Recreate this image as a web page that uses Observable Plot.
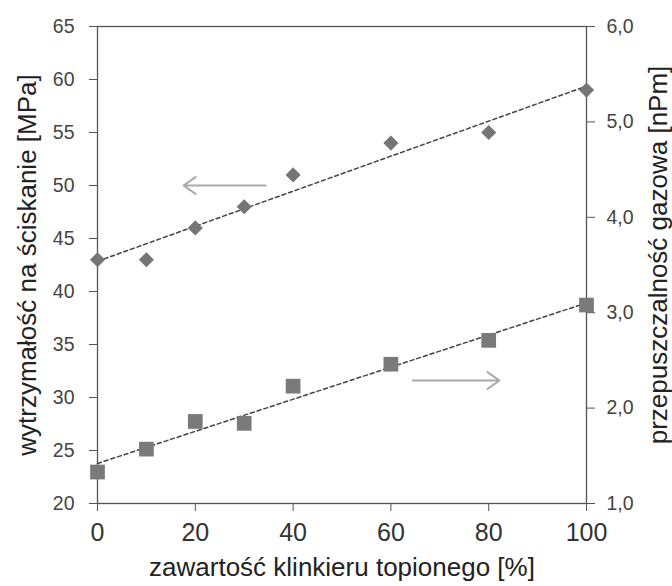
<!DOCTYPE html>
<html><head><meta charset="utf-8">
<script src="https://cdn.jsdelivr.net/npm/d3@7"></script>
<script src="https://cdn.jsdelivr.net/npm/@observablehq/plot@0.6"></script>
<style>body{margin:0;background:#fff;} svg{font-family:"Liberation Sans",Arial,sans-serif;}</style>
</head><body><div id="chart"></div>
<script>
// content of fused clinker [%]
const clinker = [0, 10, 20, 30, 40, 60, 80, 100];
// compressive strength [MPa] (left axis)
const strength = [43, 43, 46, 48, 51, 54, 55, 59];
// gas permeability [nPm] (right axis)
const permeability = [1.33, 1.57, 1.86, 1.84, 2.23, 2.46, 2.71, 3.08];

const leftTicks = [20, 25, 30, 35, 40, 45, 50, 55, 60, 65];
const rightTicks = [1, 2, 3, 4, 5, 6];
const xTicks = [0, 20, 40, 60, 80, 100];

// arrows indicating which axis each series belongs to
const arrowX1 = [34.4, 64.5];
const arrowX2 = [17.6, 82.2];
const arrowY = [50, 31.6];

// right axis (1..6) mapped onto the left scale (20..65)
const toLeft = r => 20 + (r - 1) * 9;

const sData = clinker.map((x, i) => ({x, y: strength[i]}));
const pData = clinker.map((x, i) => ({x, y: toLeft(permeability[i])}));
const arrows = arrowX1.map((x1, i) => ({x1, x2: arrowX2[i], y: arrowY[i]}));

const fmt = v => v.toFixed(1).replace(".", ",");

const chart = Plot.plot({
  width: 672,
  height: 586,
  marginLeft: 97,
  marginRight: 86,
  marginTop: 26,
  marginBottom: 83,
  x: {domain: [0, 100]},
  y: {domain: [20, 65]},
  style: {fontFamily: "Liberation Sans, Arial, sans-serif", color: "#333"},
  marks: [
    Plot.frame({stroke: "#555", strokeWidth: 1.3}),
    Plot.axisX(xTicks, {anchor: "bottom", tickSize: 8, tickPadding: 12, fontSize: 25, label: null, stroke: "#555", fill: "#333"}),
    Plot.axisY(leftTicks, {anchor: "left", tickSize: 8, tickPadding: 15, fontSize: 19.5, label: null, stroke: "#555", fill: "#444"}),
    Plot.axisY(rightTicks.map(toLeft), {anchor: "right", tickSize: 8, tickPadding: 12, fontSize: 19.5, label: null, stroke: "#555", fill: "#444",
      tickFormat: v => fmt((v - 20) / 9 + 1)}),
    Plot.linearRegressionY(sData, {x: "x", y: "y", ci: 0, stroke: "#444", strokeWidth: 1.5, strokeDasharray: "4,3"}),
    Plot.linearRegressionY(pData, {x: "x", y: "y", ci: 0, stroke: "#444", strokeWidth: 1.5, strokeDasharray: "4,3"}),
    Plot.dot(sData, {x: "x", y: "y", symbol: "diamond2", r: 6.8, fill: "#757575", stroke: "none"}),
    Plot.dot(pData, {x: "x", y: "y", symbol: "square", r: 8.3, fill: "#7a7a7a", stroke: "none"}),
    Plot.arrow(arrows, {x1: "x1", x2: "x2", y1: "y", y2: "y", stroke: "#aaa", strokeWidth: 2, headLength: 11, headAngle: 70}),
    Plot.text(["wytrzymałość na ściskanie [MPa]"], {frameAnchor: "left", textAnchor: "middle", rotate: -90, dx: -70, dy: 0, fontSize: 26, fill: "#222"}),
    Plot.text(["przepuszczalność gazowa [nPm]"], {frameAnchor: "right", textAnchor: "middle", rotate: -90, dx: 72, dy: -10, fontSize: 26, fill: "#222"}),
    Plot.text(["zawartość klinkieru topionego [%]"], {frameAnchor: "bottom", dy: 72, fontSize: 26, fill: "#222"})
  ]
});
document.getElementById("chart").appendChild(chart);
</script>
</body></html>
